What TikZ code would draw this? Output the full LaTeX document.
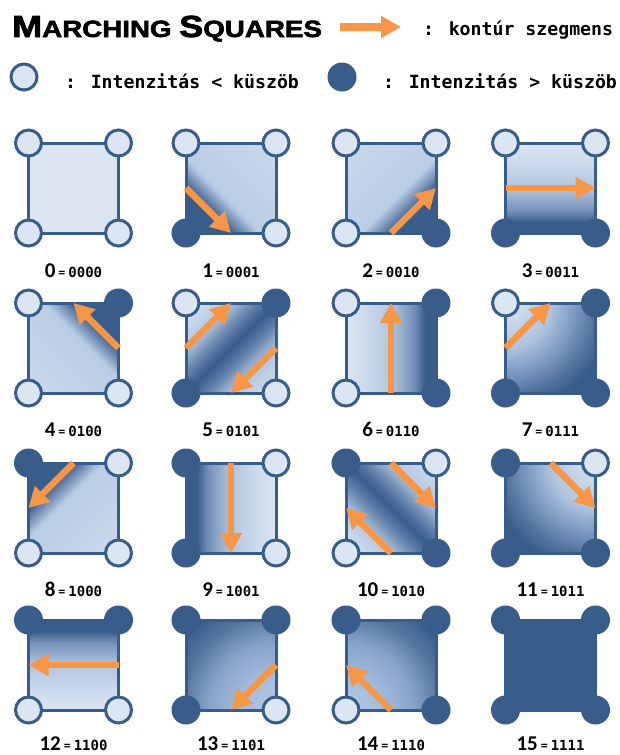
\documentclass[tikz,border=0pt]{standalone}
\usepackage{fontspec}
\usetikzlibrary{arrows.meta}
\newfontfamily\carl{Carlito}
\newfontfamily\dvmono{DejaVu Sans Mono}
\newfontfamily\titlef[FakeBold=2.5,FakeStretch=1.18]{Liberation Sans}
\definecolor{Dk}{RGB}{56,93,138}
\definecolor{Lt}{RGB}{220,230,242}
\definecolor{Md}{RGB}{185,205,229}
\definecolor{Or}{RGB}{247,150,70}
\definecolor{Ca}{RGB}{90,120,162}
\definecolor{Cb}{RGB}{204,218,236}
\definecolor{Ea}{RGB}{117,145,185}
\definecolor{Eb}{RGB}{178,198,223}
\definecolor{Ec}{RGB}{201,216,235}
\definecolor{Sa}{RGB}{183,202,227}
\definecolor{Sb}{RGB}{94,125,168}
\definecolor{Sc}{RGB}{207,220,237}
\definecolor{Ra}{RGB}{175,196,223}
\definecolor{Rb}{RGB}{135,163,201}
\definecolor{Rc}{RGB}{85,117,160}
\definecolor{Qa}{RGB}{178,201,229}
\definecolor{Qb}{RGB}{165,190,222}
\pgfdeclarehorizontalshading{cornersh}{100bp}{color(0bp)=(Dk); color(32bp)=(Dk); color(35bp)=(Ca); color(44bp)=(Md); color(86bp)=(Cb); color(100bp)=(Cb)}
\pgfdeclarehorizontalshading{edgesh}{100bp}{color(0bp)=(Dk); color(31bp)=(Dk); color(37.5bp)=(Ea); color(50bp)=(Eb); color(62.5bp)=(Ec); color(75bp)=(Lt); color(100bp)=(Lt)}
\pgfdeclarehorizontalshading{saddlesh}{100bp}{color(0bp)=(Lt); color(15bp)=(Lt); color(31bp)=(Sa); color(43bp)=(Sb); color(50bp)=(Dk); color(57bp)=(Sb); color(69bp)=(Sa); color(85bp)=(Sc); color(100bp)=(Sc)}
\pgfdeclareradialshading{radsh}{\pgfpointorigin}{color(0bp)=(Lt); color(8bp)=(Ra); color(11.4bp)=(Rb); color(16bp)=(Rc); color(19bp)=(Dk); color(50bp)=(Dk)}
\pgfdeclareradialshading{radshb}{\pgfpointorigin}{color(0bp)=(Qa); color(6bp)=(Qb); color(12bp)=(Rb); color(17bp)=(Rc); color(21bp)=(Dk); color(50bp)=(Dk)}
\newcommand\mscorners[5]{%
  \node[#2] (#1tl) at (#1.north west) {};
  \node[#3] (#1tr) at (#1.north east) {};
  \node[#4] (#1br) at (#1.south east) {};
  \node[#5] (#1bl) at (#1.south west) {};}
\newcommand\mslab[2]{{\carl\bfseries\fontsize{21}{21}\selectfont #1}\hspace{3pt}{\carl\bfseries\fontsize{14}{14}\selectfont =}\hspace{3pt}{\dvmono\bfseries\fontsize{14}{14}\selectfont #2}}
\tikzset{
  cell/.style={rectangle, draw=Dk, line width=3pt, minimum size=90pt, inner sep=0pt, outer sep=0pt},
  lo/.style={circle, fill=Lt, draw=Dk, line width=3pt, minimum size=26pt, inner sep=0pt},
  hi/.style={circle, fill=Dk, minimum size=29pt, inner sep=0pt},
  arr/.style={draw=Or, line width=6.5pt, -{Triangle[length=20pt,width=21pt]}},
  shcorner/.style={shade, shading=cornersh, shading angle=#1},
  shedge/.style={shade, shading=edgesh, shading angle=#1},
  shsaddle/.style={shade, shading=saddlesh, shading angle=#1},
  shrad/.style={fill=Dk, path picture={\shade[shading=radsh] (path picture bounding box.#1) circle (140pt);}},
  shradb/.style={fill=Dk, path picture={\shade[shading=radshb] (path picture bounding box.#1) circle (140pt);}},
  lab/.style={anchor=base, inner sep=0pt},
  legtext/.style={anchor=base west, inner sep=0pt, font=\dvmono\bfseries\fontsize{18.2}{20}\selectfont},
}
\begin{document}
\begin{tikzpicture}[x=1pt,y=-1pt]
\path[use as bounding box, fill=white] (0,0) rectangle (619,755);
% title and legend
\node[anchor=base west, inner sep=0pt] (title) at (12,37) {\titlef\bfseries\fontsize{30.5}{30}\selectfont M\fontsize{23.5}{30}\selectfont ARCHING \fontsize{30.5}{30}\selectfont S\fontsize{23.5}{30}\selectfont QUARES};
\coordinate (la) at (340,27);
\coordinate (lb) at (401,27);
\draw[arr, line width=8pt] (la) -- (lb);
\node[legtext] (legT0) at (423,35) {: kontúr szegmens};
\node[lo] (legLo) at (24,77) {};
\node[legtext] (legT1) at (65,88) {: Intenzitás < küszöb};
\node[hi] (legHi) at (342,77) {};
\node[legtext] (legT2) at (383,88) {: Intenzitás > küszöb};
% cells
\node[cell, fill=Lt] (c0) at (73.5,188) {};
\node[cell, shcorner=45] (c1) at (231,188) {};
\node[cell, shcorner=135] (c2) at (391,188) {};
\node[cell, shedge=90] (c3) at (550.5,188) {};
\node[cell, shcorner=225] (c4) at (73.5,348) {};
\node[cell, shsaddle=-45] (c5) at (231,348) {};
\node[cell, shedge=180] (c6) at (391,348) {};
\node[cell, shrad=north west] (c7) at (550.5,348) {};
\node[cell, shcorner=-45] (c8) at (73.5,508) {};
\node[cell, shedge=0] (c9) at (231,508) {};
\node[cell, shsaddle=45] (c10) at (391,508) {};
\node[cell, shrad=north east] (c11) at (550.5,508) {};
\node[cell, shedge=270] (c12) at (73.5,665) {};
\node[cell, shradb=south east] (c13) at (231,665) {};
\node[cell, shradb=south west] (c14) at (391,665) {};
\node[cell, fill=Dk] (c15) at (550.5,665) {};
% contour segments
\draw[arr] (c1.west) -- (c1.south);
\draw[arr] (c2.south) -- (c2.east);
\draw[arr] (c3.west) -- (c3.east);
\draw[arr] (c4.east) -- (c4.north);
\draw[arr] (c5.west) -- (c5.north);
\draw[arr] (c5.east) -- (c5.south);
\draw[arr] (c6.south) -- (c6.north);
\draw[arr] (c7.west) -- (c7.north);
\draw[arr] (c8.north) -- (c8.west);
\draw[arr] (c9.north) -- (c9.south);
\draw[arr] (c10.north) -- (c10.east);
\draw[arr] (c10.south) -- (c10.west);
\draw[arr] (c11.north) -- (c11.east);
\draw[arr] (c12.east) -- (c12.west);
\draw[arr] (c13.east) -- (c13.south);
\draw[arr] (c14.south) -- (c14.west);
% corners: tl, tr, br, bl
\mscorners{c0}{lo}{lo}{lo}{lo}
\mscorners{c1}{lo}{lo}{lo}{hi}
\mscorners{c2}{lo}{lo}{hi}{lo}
\mscorners{c3}{lo}{lo}{hi}{hi}
\mscorners{c4}{lo}{hi}{lo}{lo}
\mscorners{c5}{lo}{hi}{lo}{hi}
\mscorners{c6}{lo}{hi}{hi}{lo}
\mscorners{c7}{lo}{hi}{hi}{hi}
\mscorners{c8}{hi}{lo}{lo}{lo}
\mscorners{c9}{hi}{lo}{lo}{hi}
\mscorners{c10}{hi}{lo}{hi}{lo}
\mscorners{c11}{hi}{lo}{hi}{hi}
\mscorners{c12}{hi}{hi}{lo}{lo}
\mscorners{c13}{hi}{hi}{lo}{hi}
\mscorners{c14}{hi}{hi}{hi}{lo}
\mscorners{c15}{hi}{hi}{hi}{hi}
% labels
\node[lab] (l0) at (73.5,277) {\mslab{0}{0000}};
\node[lab] (l1) at (231,277) {\mslab{1}{0001}};
\node[lab] (l2) at (391,277) {\mslab{2}{0010}};
\node[lab] (l3) at (550.5,277) {\mslab{3}{0011}};
\node[lab] (l4) at (73.5,436) {\mslab{4}{0100}};
\node[lab] (l5) at (231,436) {\mslab{5}{0101}};
\node[lab] (l6) at (391,436) {\mslab{6}{0110}};
\node[lab] (l7) at (550.5,436) {\mslab{7}{0111}};
\node[lab] (l8) at (73.5,596) {\mslab{8}{1000}};
\node[lab] (l9) at (231,596) {\mslab{9}{1001}};
\node[lab] (l10) at (391,596) {\mslab{10}{1010}};
\node[lab] (l11) at (550.5,596) {\mslab{11}{1011}};
\node[lab] (l12) at (73.5,750) {\mslab{12}{1100}};
\node[lab] (l13) at (231,750) {\mslab{13}{1101}};
\node[lab] (l14) at (391,750) {\mslab{14}{1110}};
\node[lab] (l15) at (550.5,750) {\mslab{15}{1111}};
\end{tikzpicture}
\end{document}
